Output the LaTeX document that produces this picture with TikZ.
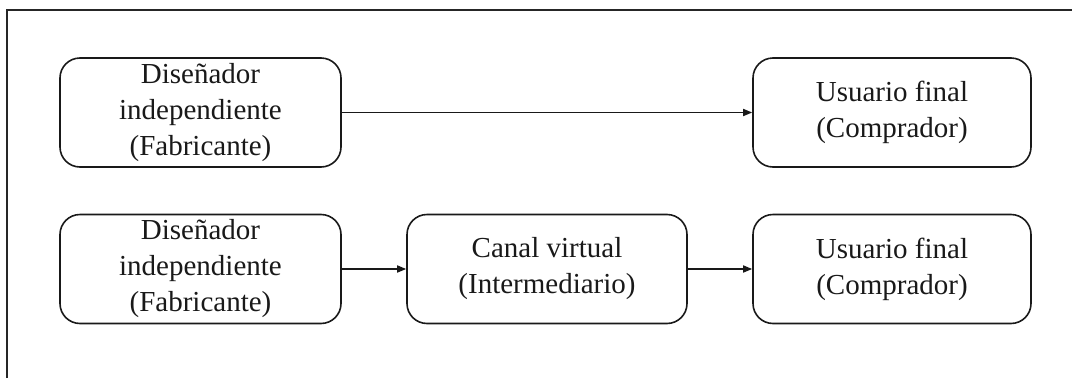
\documentclass[tikz,border=0pt]{standalone}
\usepackage{fontspec}
\setmainfont{Liberation Serif}
\usetikzlibrary{arrows.meta}
\begin{document}
\begin{tikzpicture}[x=1pt,y=-1pt,
  box/.style={draw=black!90, line width=1.6pt, rounded corners=20pt,
    minimum width=281pt, minimum height=109pt, inner sep=0pt,
    align=center, text=black!90,
    font=\fontsize{29}{36}\selectfont},
  flow/.style={draw=black!90, line width=1.6pt,
    -{Triangle[length=9pt,width=7pt]}}]
\useasboundingbox (0,0) rectangle (1072,378);
\fill[white] (0,0) rectangle (1072,378);
% outer frame
\draw[black!85, line width=2pt] (7,378) -- (7,10) -- (1072,10);
% top row: direct sale
\node[box] (d1) at (200.5,112.5) {Diseñador\\independiente\\(Fabricante)};
\node[box, minimum width=278pt] (u1) at (892,112.5) {Usuario final\\(Comprador)};
% bottom row: through an intermediary
\node[box] (d2) at (200.5,269) {Diseñador\\independiente\\(Fabricante)};
\node[box, minimum width=280pt] (c2) at (547,269) {Canal virtual\\(Intermediario)};
\node[box, minimum width=278pt] (u2) at (892,269) {Usuario final\\(Comprador)};
\draw[flow] (d1) -- (u1);
\draw[flow] (d2) -- (c2);
\draw[flow] (c2) -- (u2);
\end{tikzpicture}
\end{document}
